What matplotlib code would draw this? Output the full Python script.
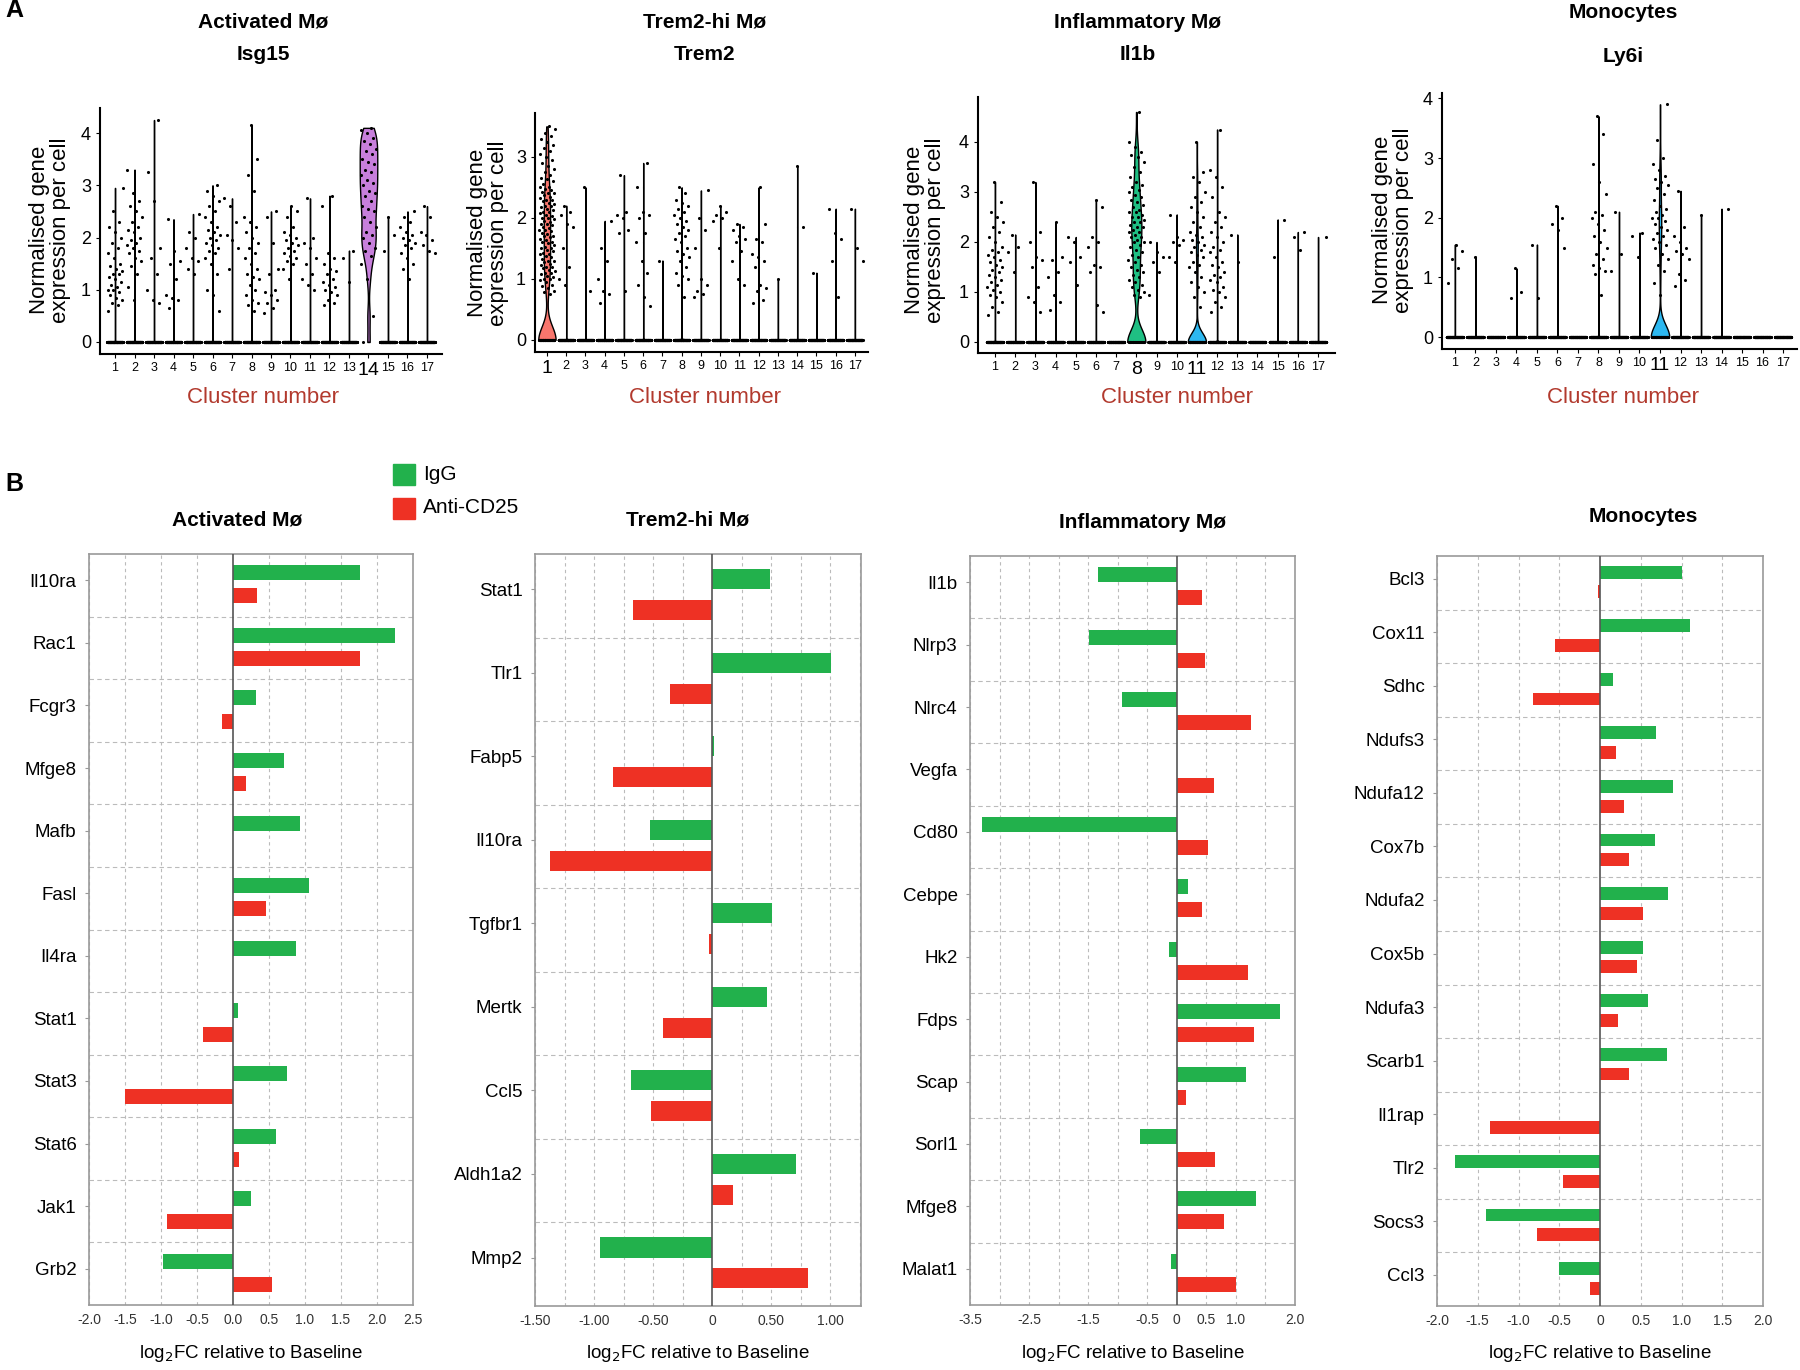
import numpy as np
import matplotlib
matplotlib.use("Agg")
import matplotlib.pyplot as plt

plt.rcParams['font.family'] = ['Liberation Sans', 'DejaVu Sans']

W, H = 1800, 1370
clusters = list(range(1, 18))

# ---------------- Panel A: non-zero expression values per cluster + count of zero cells
isg15_pts = [
    [0.6, 0.7, 0.75, 0.8, 0.85, 0.9, 0.95, 1.0, 1.0, 1.05, 1.1, 1.15, 1.2, 1.25, 1.3, 1.3, 1.35,
     1.4, 1.45, 1.5, 1.6, 1.7, 1.8, 1.9, 2.0, 2.1, 2.2, 2.3, 2.5, 2.95],
    [0.8, 1.05, 1.3, 1.45, 1.55, 1.6, 1.7, 1.75, 1.8, 1.85, 1.9, 1.95, 2.0, 2.1, 2.15, 2.2, 2.3,
     2.4, 2.5, 2.6, 2.7, 2.85, 3.3],
    [0.75, 0.8, 1.0, 1.3, 1.6, 1.8, 2.7, 3.25, 4.25],
    [0.65, 0.8, 0.85, 0.9, 1.2, 1.5, 1.55, 1.75, 2.35],
    [1.3, 1.4, 1.55, 1.6, 1.8, 2.0, 2.1, 2.45],
    [0.6, 0.9, 1.0, 1.3, 1.5, 1.6, 1.7, 1.75, 1.8, 1.85, 1.9, 1.95, 2.0, 2.05, 2.1, 2.15, 2.2,
     2.3, 2.4, 2.5, 2.6, 2.7, 2.8, 2.9, 3.0],
    [1.4, 1.8, 1.95, 2.05, 2.3, 2.6, 2.75],
    [0.6, 0.7, 0.75, 0.8, 0.9, 1.0, 1.1, 1.2, 1.25, 1.3, 1.4, 1.5, 1.6, 1.7, 1.8, 1.9, 2.0, 2.1,
     2.2, 2.3, 2.4, 2.9, 3.2, 3.5, 4.15],
    [0.55, 0.65, 0.75, 0.8, 0.9, 0.95, 1.0, 1.3, 1.4, 1.9, 2.4, 2.5],
    [1.2, 1.4, 1.5, 1.55, 1.6, 1.65, 1.7, 1.75, 1.8, 1.85, 1.9, 1.95, 2.0, 2.05, 2.1, 2.2, 2.4,
     2.5, 2.6],
    [1.0, 1.1, 1.2, 1.3, 1.5, 1.6, 1.8, 1.9, 2.0, 2.75],
    [0.7, 0.75, 0.8, 0.9, 0.95, 1.0, 1.05, 1.1, 1.15, 1.2, 1.3, 1.35, 1.4, 1.5, 1.6, 1.7, 2.6, 2.8],
    [1.15, 1.6, 1.75],
    [0.5, 1.2, 1.5, 1.65, 1.75, 1.8, 1.9, 2.0, 2.05, 2.1, 2.2, 2.3, 2.4, 2.5, 2.55, 2.6, 2.7,
     2.8, 2.85, 2.9, 3.0, 3.05, 3.1, 3.2, 3.25, 3.3, 3.4, 3.45, 3.5, 3.6, 3.65, 3.7, 3.8, 3.85,
     3.9, 4.0, 4.05, 4.1],
    [1.75, 2.05, 2.4],
    [1.2, 1.4, 1.5, 1.6, 1.7, 1.8, 1.85, 1.9, 1.95, 2.0, 2.05, 2.1, 2.2, 2.3, 2.4, 2.5],
    [1.7, 1.75, 1.85, 1.95, 2.05, 2.1, 2.4, 2.6],
]
isg15_zeros = [150, 150, 150, 150, 150, 150, 150, 150, 150, 150, 150, 150, 150, 1, 150, 150, 150]

trem2_pts = [
    [0.75, 0.78, 0.8, 0.85, 0.88, 0.9, 0.95, 0.98, 1.0, 1.0, 1.03, 1.05, 1.08, 1.1, 1.1, 1.13,
     1.15, 1.18, 1.2, 1.2, 1.23, 1.25, 1.28, 1.3, 1.3, 1.33, 1.35, 1.38, 1.4, 1.4, 1.43, 1.45,
     1.48, 1.5, 1.5, 1.53, 1.55, 1.58, 1.6, 1.6, 1.63, 1.65, 1.68, 1.7, 1.7, 1.73, 1.75, 1.78,
     1.8, 1.8, 1.83, 1.85, 1.88, 1.9, 1.9, 1.93, 1.95, 1.98, 2.0, 2.0, 2.03, 2.05, 2.08, 2.1,
     2.1, 2.13, 2.15, 2.18, 2.2, 2.2, 2.23, 2.25, 2.28, 2.3, 2.3, 2.33, 2.35, 2.38, 2.4, 2.4,
     2.43, 2.45, 2.48, 2.5, 2.5, 2.55, 2.6, 2.63, 2.65, 2.7, 2.75, 2.8, 2.85, 2.9, 2.95, 3.0,
     3.05, 3.1, 3.15, 3.2, 3.25, 3.3, 3.35, 3.4, 3.45, 3.5],
    [0.9, 1.0, 1.2, 1.5, 1.85, 1.9, 2.05, 2.1, 2.2],
    [0.8, 2.5],
    [0.6, 0.75, 0.8, 1.0, 1.3, 1.5, 1.95],
    [0.8, 1.75, 1.8, 2.0, 2.05, 2.1, 2.7],
    [0.55, 0.7, 0.9, 1.1, 1.3, 1.6, 1.75, 2.0, 2.05, 2.1, 2.5, 2.9],
    [1.3],
    [0.7, 0.9, 1.0, 1.05, 1.1, 1.2, 1.3, 1.35, 1.4, 1.45, 1.5, 1.6, 1.65, 1.7, 1.75, 1.8, 1.85,
     1.9, 1.95, 2.0, 2.05, 2.1, 2.15, 2.2, 2.25, 2.3, 2.4, 2.5],
    [0.7, 0.75, 0.8, 0.9, 1.0, 1.5, 1.8, 2.0, 2.45],
    [1.5, 1.95, 2.0, 2.05, 2.1, 2.2],
    [0.9, 1.0, 1.3, 1.45, 1.6, 1.65, 1.7, 1.8, 1.85, 1.9],
    [0.6, 0.65, 0.8, 0.85, 0.9, 1.2, 1.3, 1.35, 1.4, 1.6, 1.65, 1.9, 2.5],
    [1.0],
    [1.85, 2.85],
    [1.1],
    [0.7, 1.3, 1.65, 1.75, 2.15],
    [1.3, 1.5, 2.15],
]
trem2_zeros = [75, 150, 150, 150, 150, 150, 150, 150, 150, 150, 150, 150, 150, 150, 150, 150, 150]

il1b_pts = [
    [0.55, 0.6, 0.7, 0.8, 0.9, 0.95, 1.0, 1.05, 1.1, 1.15, 1.2, 1.25, 1.3, 1.35, 1.4, 1.45, 1.5,
     1.55, 1.6, 1.65, 1.7, 1.75, 1.8, 1.85, 1.9, 2.0, 2.1, 2.2, 2.3, 2.4, 2.5, 2.6, 2.8, 3.2],
    [1.4, 1.8, 1.9, 2.15],
    [0.6, 0.8, 0.9, 1.1, 1.5, 1.65, 1.7, 2.0, 2.2, 3.2],
    [0.65, 0.8, 0.95, 1.3, 1.4, 1.65, 1.7, 2.4],
    [1.15, 1.6, 1.7, 2.0, 2.1],
    [0.6, 0.75, 1.4, 1.5, 1.55, 1.9, 2.0, 2.1, 2.7, 2.85],
    [],
    [0.9, 0.95, 1.0, 1.05, 1.1, 1.15, 1.2, 1.25, 1.3, 1.35, 1.4, 1.45, 1.5, 1.55, 1.6, 1.65, 1.7,
     1.75, 1.8, 1.85, 1.9, 1.95, 2.0, 2.0, 2.05, 2.1, 2.1, 2.15, 2.2, 2.2, 2.25, 2.3, 2.3, 2.35,
     2.4, 2.4, 2.45, 2.5, 2.5, 2.55, 2.6, 2.6, 2.65, 2.7, 2.75, 2.8, 2.85, 2.9, 2.95, 3.0, 3.05,
     3.1, 3.15, 3.2, 3.3, 3.4, 3.5, 3.6, 3.7, 3.75, 3.8, 3.9, 4.0, 4.6],
    [0.95, 1.4, 1.6, 1.7, 1.8, 2.0],
    [1.6, 1.7, 1.95, 2.0, 2.05, 2.1, 2.55],
    [0.7, 0.9, 1.0, 1.1, 1.2, 1.3, 1.4, 1.5, 1.55, 1.6, 1.7, 1.75, 1.8, 1.85, 1.9, 1.95, 2.0,
     2.05, 2.1, 2.15, 2.2, 2.3, 2.4, 2.5, 2.6, 2.7, 2.8, 2.9, 3.0, 3.2, 3.3, 3.4, 4.0],
    [0.6, 0.7, 0.8, 0.9, 1.0, 1.05, 1.1, 1.2, 1.25, 1.3, 1.35, 1.4, 1.5, 1.55, 1.6, 1.7, 1.8,
     1.85, 1.9, 2.0, 2.1, 2.2, 2.3, 2.4, 2.5, 2.6, 2.9, 3.1, 3.3, 3.45, 4.25],
    [1.6, 2.15],
    [],
    [1.7, 2.45],
    [1.85, 2.1, 2.2],
    [2.1],
]
il1b_zeros = [150, 150, 150, 150, 150, 150, 150, 32, 150, 150, 90, 150, 150, 150, 150, 150, 150]

ly6i_pts = [
    [0.9, 1.15, 1.3, 1.45, 1.55],
    [1.35],
    [],
    [0.65, 0.75, 1.15],
    [0.65, 1.55],
    [1.5, 1.8, 1.9, 2.0, 2.2],
    [],
    [0.7, 1.05, 1.1, 1.15, 1.2, 1.3, 1.4, 1.5, 1.6, 1.7, 1.8, 1.9, 2.0, 2.05, 2.1, 2.4, 2.6,
     2.9, 3.4, 3.7],
    [1.1, 1.4, 2.1],
    [1.35, 1.7, 1.75],
    [0.7, 0.9, 1.1, 1.2, 1.3, 1.4, 1.5, 1.55, 1.6, 1.65, 1.7, 1.75, 1.8, 1.85, 1.9, 1.95, 2.0,
     2.0, 2.05, 2.1, 2.15, 2.2, 2.3, 2.4, 2.5, 2.55, 2.6, 2.65, 2.7, 2.8, 2.9, 3.0, 3.3, 3.9],
    [0.85, 0.95, 1.05, 1.3, 1.4, 1.45, 1.5, 1.6, 1.7, 1.85, 2.45],
    [2.05],
    [2.15],
    [],
    [],
    [],
]
ly6i_zeros = [150, 150, 150, 150, 150, 150, 150, 150, 150, 150, 80, 150, 150, 150, 150, 150, 150]

# ---------------- Panel B: log2FC relative to baseline
act_genes = ['Il10ra', 'Rac1', 'Fcgr3', 'Mfge8', 'Mafb', 'Fasl', 'Il4ra', 'Stat1', 'Stat3',
             'Stat6', 'Jak1', 'Grb2']
act_igg = [1.76, 2.25, 0.32, 0.71, 0.93, 1.05, 0.88, 0.07, 0.75, 0.60, 0.25, -0.97]
act_anti = [0.33, 1.77, -0.15, 0.18, 0.0, 0.46, 0.0, -0.41, -1.50, 0.08, -0.91, 0.54]

trem_genes = ['Stat1', 'Tlr1', 'Fabp5', 'Il10ra', 'Tgfbr1', 'Mertk', 'Ccl5', 'Aldh1a2', 'Mmp2']
trem_igg = [0.49, 1.01, 0.015, -0.53, 0.51, 0.46, -0.69, 0.71, -0.95]
trem_anti = [-0.67, -0.36, -0.84, -1.37, -0.025, -0.42, -0.52, 0.18, 0.81]

infl_genes = ['Il1b', 'Nlrp3', 'Nlrc4', 'Vegfa', 'Cd80', 'Cebpe', 'Hk2', 'Fdps', 'Scap',
              'Sorl1', 'Mfge8', 'Malat1']
infl_igg = [-1.34, -1.49, -0.92, 0.0, -3.29, 0.19, -0.13, 1.75, 1.17, -0.62, 1.34, -0.10]
infl_anti = [0.43, 0.47, 1.25, 0.63, 0.52, 0.43, 1.21, 1.30, 0.16, 0.65, 0.79, 1.00]

mono_genes = ['Bcl3', 'Cox11', 'Sdhc', 'Ndufs3', 'Ndufa12', 'Cox7b', 'Ndufa2', 'Cox5b',
              'Ndufa3', 'Scarb1', 'Il1rap', 'Tlr2', 'Socs3', 'Ccl3']
mono_igg = [1.01, 1.10, 0.16, 0.69, 0.89, 0.67, 0.83, 0.53, 0.59, 0.82, 0.0, -1.78, -1.40, -0.50]
mono_anti = [-0.03, -0.55, -0.82, 0.20, 0.29, 0.36, 0.53, 0.45, 0.22, 0.36, -1.35, -0.45,
             -0.77, -0.12]

GREEN = '#22B14C'
RED = '#EE3124'

fig = plt.figure(figsize=(W / 100, H / 100), dpi=100)


def axes_px(left, top, right, bottom):
    return fig.add_axes([left / W, 1 - bottom / H, (right - left) / W, (bottom - top) / H])


def text_px(x, y, s, **kw):
    fig.text(x / W, 1 - y / H, s, ha=kw.pop('ha', 'center'), va=kw.pop('va', 'center'), **kw)


def violin_panel(box, xlim, ylim, yticks, pts, zeros, hi, big_ticks):
    ax = axes_px(*box)
    for k in clusters:
        p = pts[k - 1]
        vals = np.concatenate([np.zeros(zeros[k - 1]), np.array(p, dtype=float)])
        if len(p) > 0:
            color, bw = hi.get(k, ('white', 0.01))
            parts = ax.violinplot([vals], positions=[k], widths=0.9, showextrema=False,
                                  bw_method=bw, points=300)
            body = parts['bodies'][0]
            body.set_facecolor(color)
            body.set_edgecolor('black')
            body.set_linewidth(1.0)
            body.set_alpha(1)
        n = len(vals)
        jit = ((np.arange(n) * 0.618034 + k * 0.37) % 1.0 - 0.5) * 0.8
        ax.scatter(k + jit, vals, s=5, color='black', linewidths=0, zorder=3)
    ax.set_xlim(*xlim)
    ax.set_ylim(*ylim)
    for s in ['top', 'right']:
        ax.spines[s].set_visible(False)
    for s in ['left', 'bottom']:
        ax.spines[s].set_linewidth(1.5)
    ax.set_yticks(yticks)
    ax.set_xticks(clusters)
    ax.set_xticklabels([str(c) for c in clusters])
    ax.tick_params(axis='y', labelsize=13, length=3)
    ax.tick_params(axis='x', labelsize=9, length=3, pad=3)
    for lab in ax.get_xticklabels():
        if lab.get_text() in big_ticks:
            lab.set_fontsize(14)
    return ax


# ---- Panel A
violin_panel((100, 108, 442, 354), (0.23, 17.77), (-0.23, 4.48), [0, 1, 2, 3, 4],
             isg15_pts, isg15_zeros, {14: ('#C77FDB', 0.22)}, ['14'])
violin_panel((535, 113, 868, 352), (0.38, 17.68), (-0.2, 3.72), [0, 1, 2, 3],
             trem2_pts, trem2_zeros, {1: ('#F8766D', 0.2)}, ['1'])
violin_panel((978, 97, 1335, 353), (0.16, 17.84), (-0.22, 4.9), [0, 1, 2, 3, 4],
             il1b_pts, il1b_zeros, {8: ('#1FBF83', 0.19), 11: ('#2DB8F0', 0.18)}, ['8', '11'])
violin_panel((1442, 93, 1797, 349), (0.37, 17.68), (-0.2, 4.09), [0, 1, 2, 3, 4],
             ly6i_pts, ly6i_zeros, {11: ('#2DB8F0', 0.2)}, ['11'])

titles_a = [(263, 22, 'Activated Mø', 55, 'Isg15'),
            (705, 22, 'Trem2-hi Mø', 55, 'Trem2'),
            (1138, 22, 'Inflammatory Mø', 55, 'Il1b'),
            (1623, 13, 'Monocytes', 57, 'Ly6i')]
for x, y1, t1, y2, t2 in titles_a:
    text_px(x, y1, t1, fontsize=15, fontweight='bold')
    text_px(x, y2, t2, fontsize=15, fontweight='bold')

for x, y in [(50, 230), (488, 233), (925, 230), (1393, 220)]:
    text_px(x, y, 'Normalised gene\nexpression per cell', fontsize=16, rotation=90,
            linespacing=1.0)

for x in [263, 705, 1177, 1623]:
    text_px(x, 398, 'Cluster number', fontsize=16, color='#B23A2E')

text_px(5, 10, 'A', fontsize=18, fontweight='bold', ha='left')
text_px(5, 484, 'B', fontsize=18, fontweight='bold', ha='left')


# ---- Panel B
def bar_panel(box, genes, igg, anti, xlim, ticks, ticklabels, grid_step, title, title_x, title_y):
    ax = axes_px(*box)
    n = len(genes)
    y = np.arange(n)
    ax.barh(y + 0.30, igg, height=0.24, color=GREEN, zorder=3)
    ax.barh(y + 0.67, anti, height=0.24, color=RED, zorder=3)
    ax.set_ylim(n, 0)
    ax.set_xlim(*xlim)
    ax.set_yticks(y + 0.42)
    ax.set_yticklabels(genes, fontsize=13.5)
    ax.set_xticks(ticks)
    ax.set_xticklabels(ticklabels, fontsize=10, color='#333333')
    grid = np.arange(np.ceil(xlim[0] / grid_step) * grid_step, xlim[1] + 1e-9, grid_step)
    for g in grid:
        if abs(g) > 1e-9:
            ax.axvline(g, color='#BBBBBB', lw=0.8, ls=(0, (3, 3)), zorder=1)
    for b in range(1, n):
        ax.axhline(b, color='#BBBBBB', lw=0.8, ls=(0, (4, 3)), zorder=1)
    ax.axvline(0, color='#555555', lw=1.2, zorder=4)
    for s in ax.spines.values():
        s.set_color('#999999')
        s.set_linewidth(1.2)
    ax.tick_params(axis='y', length=3, color='#999999', pad=6)
    ax.tick_params(axis='x', length=0, pad=6)
    text_px(title_x, title_y, title, fontsize=15, fontweight='bold')
    cx = (box[0] + box[2]) / 2
    text_px(cx, 1353, 'log$_2$FC relative to Baseline', fontsize=13.5)
    return ax


bar_panel((89, 554, 413, 1305), act_genes, act_igg, act_anti, (-2.0, 2.5),
          [-2.0, -1.5, -1.0, -0.5, 0.0, 0.5, 1.0, 1.5, 2.0, 2.5],
          ['-2.0', '-1.5', '-1.0', '-0.5', '0.0', '0.5', '1.0', '1.5', '2.0', '2.5'],
          0.5, 'Activated Mø', 237, 520)
bar_panel((535, 554, 861, 1306), trem_genes, trem_igg, trem_anti, (-1.5, 1.26),
          [-1.5, -1.0, -0.5, 0.0, 0.5, 1.0],
          ['-1.50', '-1.00', '-0.50', '0', '0.50', '1.00'],
          0.25, 'Trem2-hi Mø', 688, 520)
bar_panel((970, 556, 1295, 1305), infl_genes, infl_igg, infl_anti, (-3.5, 2.0),
          [-3.5, -2.5, -1.5, -0.5, 0.0, 0.5, 1.0, 2.0],
          ['-3.5', '-2.5', '-1.5', '-0.5', '0', '0.5', '1.0', '2.0'],
          0.5, 'Inflammatory Mø', 1143, 523)
bar_panel((1437, 556, 1763, 1306), mono_genes, mono_igg, mono_anti, (-2.0, 2.0),
          [-2.0, -1.5, -1.0, -0.5, 0.0, 0.5, 1.0, 1.5, 2.0],
          ['-2.0', '-1.5', '-1.0', '-0.5', '0', '0.5', '1.0', '1.5', '2.0'],
          0.5, 'Monocytes', 1643, 517)

# legend
for y, c, lab in [(474, GREEN, 'IgG'), (508, RED, 'Anti-CD25')]:
    fig.patches.append(plt.Rectangle((393 / W, 1 - (y + 11) / H), 22 / W, 21 / H,
                                     transform=fig.transFigure, color=c))
    text_px(423, y, lab, fontsize=15, ha='left')

fig.savefig('out.png', dpi=100)
